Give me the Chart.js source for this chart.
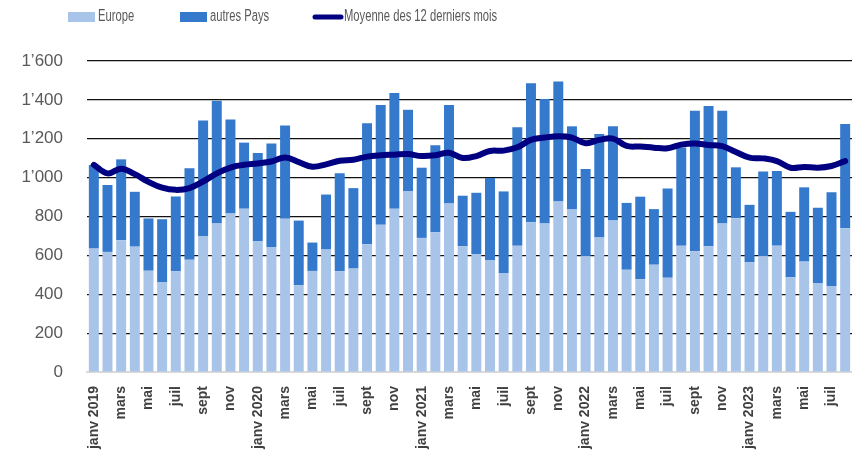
<!DOCTYPE html>
<html>
<head>
<meta charset="utf-8">
<script src="https://cdn.jsdelivr.net/npm/chart.js@4"></script>
<style>
  body { margin: 0; background: #fff; }
</style>
</head>
<body>
<canvas id="chart" width="852" height="459"></canvas>
<script>
// mois, de janv 2019 à août 2023
const MONTHS = [
  "janv 2019","févr","mars","avr","mai","juin","juil","août","sept","oct","nov","déc",
  "janv 2020","févr","mars","avr","mai","juin","juil","août","sept","oct","nov","déc",
  "janv 2021","févr","mars","avr","mai","juin","juil","août","sept","oct","nov","déc",
  "janv 2022","févr","mars","avr","mai","juin","juil","août","sept","oct","nov","déc",
  "janv 2023","févr","mars","avr","mai","juin","juil","août"
];

const EUROPE = [
  635, 618, 678, 645, 521, 461, 518, 578, 700, 764, 815, 840,
  674, 643, 789, 446, 520, 630, 518, 532, 657, 757, 840, 929,
  690, 719, 867, 647, 607, 576, 509, 650, 771, 764, 877, 836,
  595, 692, 779, 526, 477, 552, 485, 649, 621, 647, 764, 791,
  564, 595, 650, 487, 568, 458, 442, 740
];

const AUTRES_PAYS = [
  430, 344, 416, 282, 269, 325, 385, 470, 594, 631, 484, 340,
  453, 532, 479, 333, 146, 283, 504, 414, 623, 617, 595, 420,
  361, 447, 506, 260, 315, 422, 420, 609, 714, 640, 618, 428,
  449, 533, 485, 344, 425, 286, 459, 506, 723, 721, 580, 262,
  296, 437, 384, 337, 382, 387, 483, 536
];

const MOYENNE_12M = [
  1066, 1022, 1046, 1018, 978, 948, 937, 946, 980, 1022, 1052, 1066,
  1073, 1083, 1103, 1080, 1056, 1068, 1087, 1092, 1108, 1115, 1118, 1121,
  1111, 1115, 1128, 1101, 1111, 1137, 1139, 1156, 1194, 1206, 1213, 1206,
  1177, 1194, 1201, 1163, 1160, 1154, 1151, 1170, 1176, 1168, 1162, 1132,
  1103, 1099, 1085, 1051, 1055, 1051, 1060, 1085
];

function fmtThousands(v) {
  if (v < 1000) return String(v);
  return Math.floor(v / 1000) + "\u2019" + String(v % 1000).padStart(3, "0");
}

// légende dessinée à la main (texte étroit comme dans l'original)
const topLegend = {
  id: "topLegend",
  afterDraw(chart) {
    const ctx = chart.ctx;
    const xs = [68, 180, 313];
    const y = 17;
    ctx.save();
    ctx.font = '16px "Liberation Sans", Arial, sans-serif';
    ctx.textBaseline = "middle";
    chart.data.datasets.forEach((ds, i) => {
      const x = xs[i];
      let tx = x + 30;
      if (ds.type === "line") {
        ctx.strokeStyle = ds.borderColor;
        ctx.lineWidth = 5;
        ctx.lineCap = "round";
        ctx.beginPath();
        ctx.moveTo(x + 2, y);
        ctx.lineTo(x + 28, y);
        ctx.stroke();
        tx = x + 31;
      } else {
        ctx.fillStyle = ds.backgroundColor;
        ctx.fillRect(x, y - 5, 27, 10);
      }
      ctx.save();
      ctx.translate(tx, y);
      ctx.scale(0.7, 1);
      ctx.fillStyle = "#595959";
      ctx.fillText(ds.label, 0, 0);
      ctx.restore();
    });
    ctx.restore();
  }
};

const chart = new Chart(document.getElementById("chart"), {
  data: {
    labels: MONTHS,
    datasets: [
      {
        type: "bar",
        label: "Europe",
        data: EUROPE,
        backgroundColor: "#A9C4E9",
        stack: "pays",
        order: 2,
        barPercentage: 0.73,
        categoryPercentage: 1
      },
      {
        type: "bar",
        label: "autres Pays",
        data: AUTRES_PAYS,
        backgroundColor: "#3479CC",
        stack: "pays",
        order: 2,
        barPercentage: 0.73,
        categoryPercentage: 1
      },
      {
        type: "line",
        label: "Moyenne des 12 derniers mois",
        data: MOYENNE_12M,
        borderColor: "#000080",
        backgroundColor: "#000080",
        borderWidth: 6,
        borderCapStyle: "round",
        borderJoinStyle: "round",
        tension: 0.4,
        pointRadius: 0,
        stack: "moyenne",
        order: 0
      }
    ]
  },
  options: {
    responsive: false,
    animation: false,
    layout: { padding: { top: 61, right: 0, bottom: 0, left: 0 } },
    plugins: {
      legend: { display: false },
      tooltip: { enabled: false }
    },
    scales: {
      x: {
        stacked: true,
        grid: { display: false },
        border: { display: true, color: "#d9d9d9", width: 2 },
        ticks: {
          autoSkip: false,
          minRotation: 90,
          maxRotation: 90,
          padding: 6,
          color: "#404040",
          font: { family: '"Liberation Sans", Arial, sans-serif', size: 14, weight: "bold" },
          callback: function(val, i) {
            return i % 2 === 0 ? this.getLabelForValue(val) : "";
          }
        },
        afterFit: (scale) => {
          scale.height = 87;
          scale.paddingLeft = 0;
          scale.paddingRight = 0;
        }
      },
      y: {
        stacked: true,
        min: 0,
        max: 1600,
        border: { display: false },
        grid: {
          drawTicks: false,
          lineWidth: 1.2,
          color: (c) => c.tick && c.tick.value === 0 ? "#d9d9d9" : "#111111"
        },
        ticks: {
          stepSize: 200,
          padding: 24,
          color: "#595959",
          font: { family: '"Liberation Sans", Arial, sans-serif', size: 17 },
          callback: (v) => fmtThousands(v)
        },
        afterFit: (scale) => { scale.width = 87; }
      }
    }
  },
  plugins: [topLegend]
});
</script>
</body>
</html>
